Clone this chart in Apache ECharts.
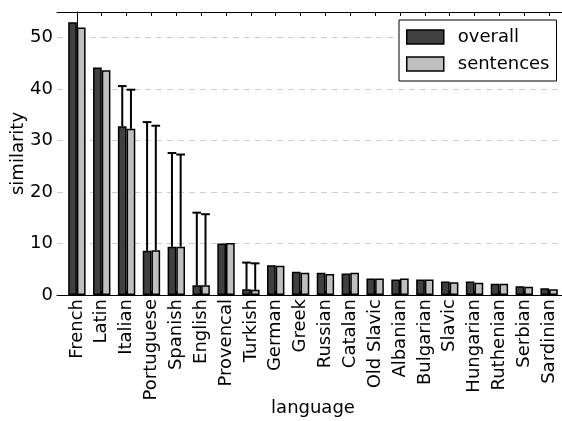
<!DOCTYPE html>
<html>
<head>
<meta charset="utf-8">
<script src="https://cdn.jsdelivr.net/npm/echarts@6/dist/echarts.min.js"></script>
<style>
  html, body { margin: 0; padding: 0; background: #fff; }
  #chart { width: 562px; height: 421px; }
</style>
</head>
<body>
<div id="chart"></div>
<script>
// Languages along the x axis
const languages = ['French', 'Latin', 'Italian', 'Portuguese', 'Spanish', 'English',
  'Provencal', 'Turkish', 'German', 'Greek', 'Russian', 'Catalan', 'Old Slavic',
  'Albanian', 'Bulgarian', 'Slavic', 'Hungarian', 'Ruthenian', 'Serbian', 'Sardinian'];

// Similarity scores
const overall   = [53.0, 44.2, 32.8, 8.6, 9.4, 1.9, 10.0, 1.1, 5.8, 4.5, 4.3, 4.2, 3.2, 3.0, 3.0, 2.6, 2.6, 2.2, 1.7, 1.3];
const sentences = [52.0, 43.7, 32.3, 8.7, 9.4, 1.9, 10.1, 1.0, 5.7, 4.3, 4.1, 4.3, 3.2, 3.2, 3.0, 2.5, 2.4, 2.2, 1.6, 1.1];

// Upper ends of the error bars (null = no error bar)
const overallUpper   = [null, null, 40.6, 33.6, 27.6, 16.0, null, 6.3, null, null, null, null, null, null, null, null, null, null, null, null];
const sentencesUpper = [null, null, 39.9, 32.9, 27.3, 15.7, null, 6.15, null, null, null, null, null, null, null, null, null, null, null, null];

const yTicks = [0, 10, 20, 30, 40, 50];

const FONT = 'DejaVu Sans';
const FS = 18;
const BAR_UNITS = 0.35;          // width of one bar in x-axis units
const X_MIN = -0.8, X_MAX = 19.8;
const GRID = { left: 57, right: -7, top: 12, bottom: 126, outerBoundsMode: 'none' };
const plotWidth = 562 - GRID.left - GRID.right;
const barPx = plotWidth / (X_MAX - X_MIN) * BAR_UNITS;
const positions = languages.map((_, i) => i);

function errorSeries(values, uppers, side) {
  const data = [];
  values.forEach((v, i) => { if (uppers[i] != null) data.push([i, v, uppers[i]]); });
  return {
    type: 'custom',
    z: 5,
    silent: true,
    data: data,
    renderItem: function (params, api) {
      const base = api.coord([api.value(0), api.value(1)]);
      const top = api.coord([api.value(0), api.value(2)]);
      const w = api.size([BAR_UNITS, 0])[0];
      const x = base[0] + side * w / 2;
      const cap = w / 2;
      const style = { stroke: '#000', lineWidth: 2 };
      return {
        type: 'group',
        children: [
          { type: 'line', shape: { x1: x, y1: base[1], x2: x, y2: top[1] }, style: style },
          { type: 'line', shape: { x1: x - cap, y1: top[1], x2: x + cap, y2: top[1] }, style: style }
        ]
      };
    }
  };
}

const chart = echarts.init(document.getElementById('chart'), null, { renderer: 'canvas' });

chart.setOption({
  animation: false,
  backgroundColor: '#fff',
  textStyle: { fontFamily: FONT, color: '#000' },
  grid: GRID,
  legend: {
    data: ['overall', 'sentences'],
    orient: 'vertical',
    left: 399,
    top: 20,
    padding: [8, 7, 8, 7],
    itemGap: 9,
    itemWidth: 37,
    itemHeight: 14,
    icon: 'rect',
    backgroundColor: '#fff',
    borderColor: '#000',
    borderWidth: 1,
    itemStyle: { borderColor: '#000', borderWidth: 1.5 },
    textStyle: { fontFamily: FONT, fontSize: FS, color: '#000', padding: [0, 0, 0, 9] }
  },
  xAxis: [
    {
      type: 'value',
      position: 'bottom',
      min: X_MIN,
      max: X_MAX,
      name: 'language',
      nameLocation: 'middle',
      nameGap: 104,
      nameMoveOverlap: false,
      nameTextStyle: { fontFamily: FONT, fontSize: FS, color: '#000' },
      axisLine: { show: true, lineStyle: { color: '#000', width: 1 } },
      axisTick: { show: true, inside: true, length: 4, customValues: positions, lineStyle: { color: '#000' } },
      axisLabel: {
        customValues: positions,
        rotate: 90,
        margin: 4,
        fontFamily: FONT,
        fontSize: FS,
        color: '#000',
        formatter: v => languages[Math.round(v)]
      },
      splitLine: { show: false }
    },
    {
      type: 'value',
      position: 'top',
      min: X_MIN,
      max: X_MAX,
      axisLine: { show: true, onZero: false, lineStyle: { color: '#000', width: 1 } },
      axisTick: { show: true, inside: true, length: 4, customValues: positions, lineStyle: { color: '#000' } },
      axisLabel: { show: true, customValues: positions, formatter: () => '' },
      splitLine: { show: false }
    }
  ],
  yAxis: {
    type: 'value',
    min: 0,
    max: 55,
    interval: 10,
    name: 'similarity',
    nameLocation: 'middle',
    nameGap: 30,
    nameMoveOverlap: false,
    nameTextStyle: { fontFamily: FONT, fontSize: FS, color: '#000' },
    axisLine: { show: true, lineStyle: { color: '#000', width: 1 } },
    axisTick: { show: true, inside: true, length: 4, customValues: yTicks, lineStyle: { color: '#000' } },
    axisLabel: {
      customValues: yTicks,
      margin: 4,
      fontFamily: FONT,
      fontSize: FS,
      color: '#000'
    },
    splitLine: { show: true, lineStyle: { color: '#cfcfcf', type: [6, 5], width: 1 } }
  },
  series: [
    {
      name: 'overall',
      type: 'bar',
      barWidth: barPx,
      barGap: '0%',
      data: overall.map((v, i) => [i, v]),
      itemStyle: { color: '#404040', borderColor: '#000', borderWidth: 1.5 }
    },
    {
      name: 'sentences',
      type: 'bar',
      barWidth: barPx,
      barGap: '0%',
      data: sentences.map((v, i) => [i, v]),
      itemStyle: { color: '#bfbfbf', borderColor: '#000', borderWidth: 1.5 }
    },
    errorSeries(overall, overallUpper, -1),
    errorSeries(sentences, sentencesUpper, 1)
  ]
});
</script>
</body>
</html>
